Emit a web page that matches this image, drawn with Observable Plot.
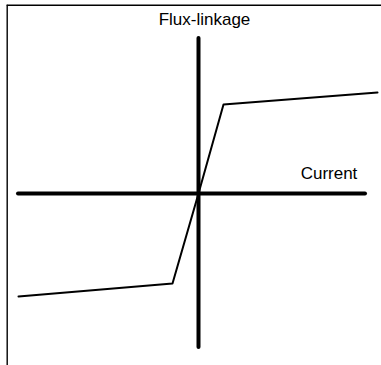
<!DOCTYPE html>
<html>
<head>
<meta charset="utf-8">
<script src="https://cdn.jsdelivr.net/npm/d3@7"></script>
<script src="https://cdn.jsdelivr.net/npm/@observablehq/plot@0.6"></script>
<style>
  html, body { margin: 0; padding: 0; background: #fff; }
  #chart svg { display: block; }
</style>
</head>
<body>
<div id="chart"></div>
<script>
// Magnetisation curve: flux-linkage vs current (arbitrary units)
const current = [-18.0, -2.6, 0, 2.5, 17.9];
const fluxLinkage = [-10.3, -9.0, 0, 8.9, 10.1];

// Axis extents (arbitrary units)
const currentAxisExtent = [-18.0, 16.7];
const fluxAxisExtent = [-15.4, 15.5];

// Axis labels
const axisLabels = ["Current", "Flux-linkage"];

const curve = current.map((c, i) => ({current: c, flux: fluxLinkage[i]}));

const chart = Plot.plot({
  width: 381,
  height: 365,
  margin: 0,
  x: {domain: [-19.8, 18.3], axis: null},
  y: {domain: [-17.2, 19.3], axis: null},
  style: {fontFamily: "'Liberation Sans', Arial, sans-serif", background: "#fff"},
  marks: [
    // frame (top and left edges)
    Plot.ruleX([-19.13], {y1: -17.2, y2: 18.83, stroke: "#000", strokeWidth: 1.4}),
    Plot.ruleY([18.83], {x1: -19.13, x2: 18.3, stroke: "#000", strokeWidth: 1.4}),
    // axes
    Plot.ruleY([0], {x1: currentAxisExtent[0], x2: currentAxisExtent[1], stroke: "#000", strokeWidth: 4, strokeLinecap: "round"}),
    Plot.ruleX([0], {y1: fluxAxisExtent[0], y2: fluxAxisExtent[1], stroke: "#000", strokeWidth: 4, strokeLinecap: "round"}),
    // curve
    Plot.line(curve, {x: "current", y: "flux", stroke: "#000", strokeWidth: 2}),
    // labels
    Plot.text([axisLabels[0]], {x: 13.05, y: 2.0, text: d => d, fontSize: 17, fill: "#000"}),
    Plot.text([axisLabels[1]], {x: 0.6, y: 17.4, text: d => d, fontSize: 17, fill: "#000"})
  ]
});
document.getElementById("chart").appendChild(chart);
</script>
</body>
</html>
